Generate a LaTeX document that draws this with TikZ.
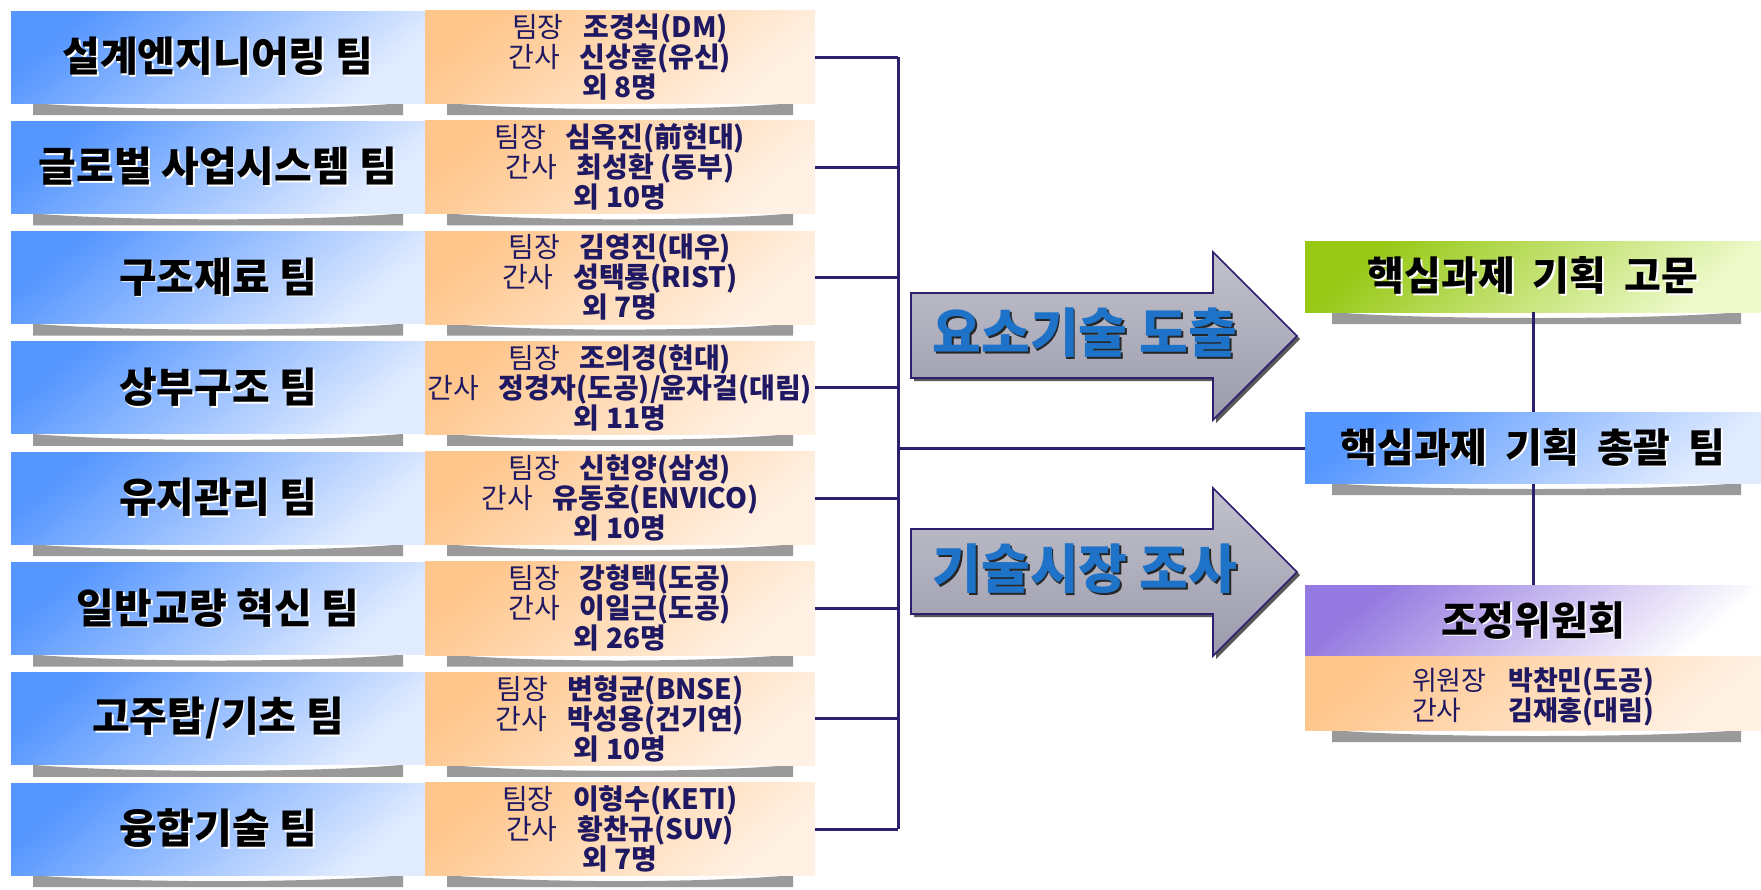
\documentclass[tikz,border=0pt]{standalone}
\usepackage{fontspec}
\setmainfont{Noto Sans CJK KR}

\definecolor{linknavy}{HTML}{2B1F6E}
\definecolor{textnavy}{HTML}{1F1862}
\definecolor{teamA}{HTML}{5596FF}
\definecolor{teamB}{HTML}{A8C6FF}
\definecolor{teamC}{HTML}{E2ECFF}
\definecolor{infoA}{HTML}{FFC68C}
\definecolor{infoB}{HTML}{FFE2C4}
\definecolor{infoC}{HTML}{FFF1E4}
\definecolor{advA}{HTML}{96C814}
\definecolor{advB}{HTML}{CFE88A}
\definecolor{advC}{HTML}{EEFACC}
\definecolor{cmtA}{HTML}{9479E0}
\definecolor{cmtB}{HTML}{C9BCEE}
\definecolor{cmtC}{HTML}{FFFFFF}
\definecolor{arrowtop}{HTML}{C2C2CD}
\definecolor{arrowbot}{HTML}{9A9AAC}
\definecolor{arrowtext}{HTML}{1E72C8}
\definecolor{barshade}{HTML}{9A9A9A}

% text with a small cast shadow
\newcommand{\castshadow}[2]{\rlap{\kern1.8pt\raisebox{-1.8pt}{\color{#1}#2}}#2}
% curved gray band under a box
\newcommand{\bandunder}[3]{\fill[barshade] (#1,#3) .. controls +(90,8) and +(-90,8) .. (#2,#3) -- (#2,#3+12) -- (#1,#3+12) -- cycle;}
\newcommand{\widewords}{\spaceskip=0.45em\relax}

\tikzset{
  glossy/.style n args={3}{top color=#1, middle color=#2, bottom color=#3, shading angle=40},
  teambox/.style={glossy={teamA}{teamB}{teamC},
    minimum width=414pt, minimum height=92pt, inner sep=0pt,
    font=\fontsize{41}{46}\selectfont\bfseries},
  infobox/.style={glossy={infoA}{infoB}{infoC},
    minimum width=390pt, minimum height=92pt, inner sep=0pt, align=center, text=textnavy,
    font=\fontsize{28}{31}\selectfont},
  topbox/.style={minimum width=456pt, minimum height=71pt, inner sep=0pt,
    font=\fontsize{40}{44}\selectfont\bfseries, execute at begin node=\widewords},
  link/.style={draw=linknavy, line width=3pt},
  bigarrow/.style={top color=arrowtop, bottom color=arrowbot, draw=linknavy, line width=1.6pt, line join=miter},
  arrowlabel/.style={text=arrowtext, font=\fontsize{53}{58}\selectfont\bfseries}
}

\begin{document}
\begin{tikzpicture}[x=1pt,y=-1pt]
\useasboundingbox (0,0) rectangle (1761,889);

% team boxes on the left
\foreach \i/\team/\head/\sub/\rest in {
  1/{설계엔지니어링 팀}/{조경식(DM)}/{신상훈(유신)}/{외 8명},
  2/{글로벌 사업시스템 팀}/{심옥진(前현대)}/{최성환 (동부)}/{외 10명},
  3/{구조재료 팀}/{김영진(대우)}/{성택룡(RIST)}/{외 7명},
  4/{상부구조 팀}/{조의경(현대)}/{정경자(도공)/윤자걸(대림)}/{외 11명},
  5/{유지관리 팀}/{신현양(삼성)}/{유동호(ENVICO)}/{외 10명},
  6/{일반교량 혁신 팀}/{강형택(도공)}/{이일근(도공)}/{외 26명},
  7/{고주탑/기초 팀}/{변형균(BNSE)}/{박성용(건기연)}/{외 10명},
  8/{융합기술 팀}/{이형수(KETI)}/{황찬규(SUV)}/{외 7명}}{
  \pgfmathsetmacro{\rowtop}{11+(\i-1)*110.3}
  \bandunder{33}{403}{\rowtop+92}
  \bandunder{447}{793}{\rowtop+92}
  \node[teambox] (team\i) at (218,\rowtop+46) {\castshadow{white}{\team}};
  \node[infobox] (info\i) at (620,\rowtop+46) {\raisebox{-3pt}[\height][\depth]{\begin{tabular}{@{}c@{}}팀장\hspace{0.7em}\textbf{\head}\\[-3pt]간사\hspace{0.7em}\textbf{\sub}\\[-3pt]\textbf{\rest}\end{tabular}}};
}

% right side boxes
\bandunder{1332}{1741}{312}
\bandunder{1332}{1741}{483}
\bandunder{1332}{1741}{730}
\node[topbox, glossy={advA}{advB}{advC}] (advisor) at (1533,276.5) {\castshadow{white}{핵심과제 기획 고문}};
\node[topbox, glossy={teamA}{teamB}{teamC}] (planning) at (1533,448) {\castshadow{white}{핵심과제 기획 총괄 팀}};
\node[topbox, glossy={cmtA}{cmtB}{cmtC}] (council) at (1533,621) {\castshadow{white}{조정위원회}};
\node[infobox, minimum width=456pt, minimum height=74pt, anchor=north, font=\fontsize{27}{31}\selectfont] (councilinfo) at (council.south) {%
  \raisebox{-5pt}[\height][\depth]{\begin{tabular}{@{}l@{\hspace{0.8em}}l@{}}위원장 & \textbf{박찬민(도공)}\\[-2pt] 간사 & \textbf{김재홍(대림)}\end{tabular}}};

% the two big arrows
\foreach \j/\dy/\txt in {1/0/{요소기술 도출}, 2/236/{기술시장 조사}}{
  \begin{scope}[yshift=-\dy pt]
    \fill[black!65, shift={(3,3)}] (911,293) -- (1213,293) -- (1213,252) -- (1297,336) -- (1213,420) -- (1213,378) -- (911,378) -- cycle;
    \draw[bigarrow] (911,293) -- (1213,293) -- (1213,252) -- (1297,336) -- (1213,420) -- (1213,378) -- (911,378) -- cycle;
    \node[arrowlabel] (arrowtext\j) at (1085,334) {\castshadow{black!85}{\txt}};
  \end{scope}
}

% connectors
\coordinate (busx) at (898,0);
\coordinate (bustop) at (info1.east -| busx);
\coordinate (busbot) at (info8.east -| busx);
\coordinate (busmid) at (planning.west -| busx);
\foreach \i in {1,...,8}{
  \draw[link] (info\i.east) -- (info\i.east -| busx);
}
\draw[link] (bustop) -- (busbot);
\draw[link] (busmid) -- (planning.west);
\draw[link] (advisor.south) -- (planning.north);
\draw[link] (planning.south) -- (council.north);
\end{tikzpicture}
\end{document}
